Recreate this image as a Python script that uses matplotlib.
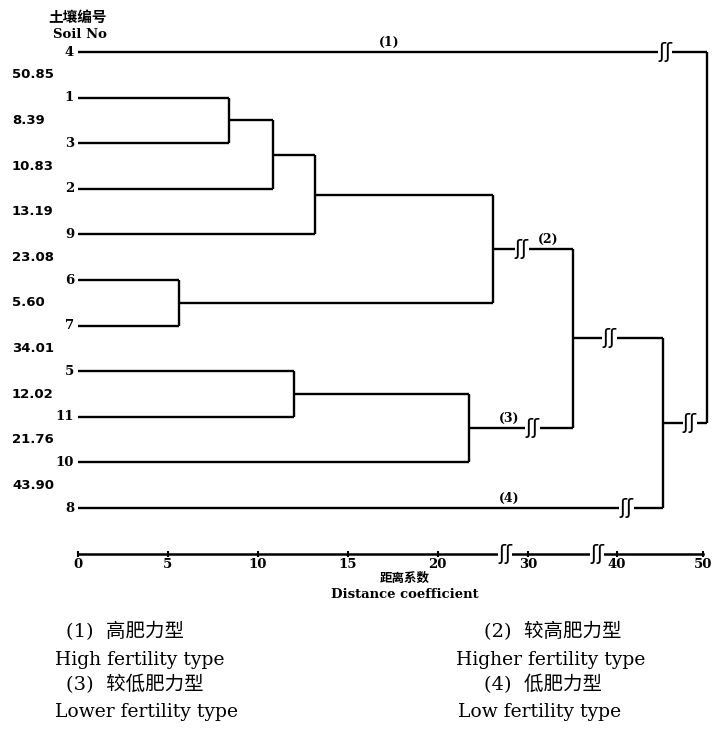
import numpy as np
import matplotlib
matplotlib.use('Agg')
import matplotlib.pyplot as plt
from matplotlib.transforms import blended_transform_factory

plt.rcParams['font.family'] = ['DejaVu Serif', 'Noto Sans CJK SC']

# soils in dendrogram order (top to bottom) and the joining distance between neighbours
leaf_order = [4, 1, 3, 2, 9, 6, 7, 5, 11, 10, 8]
join_dist = [50.85, 8.39, 10.83, 13.19, 23.08, 5.60, 34.01, 12.02, 21.76, 43.90]
tick_values = [0, 5, 10, 15, 20, 30, 40, 50]

legend_cn = ['(1)  高肥力型', '(2)  较高肥力型', '(3)  较低肥力型', '(4)  低肥力型']
legend_en = ['High fertility type', 'Higher fertility type',
             'Lower fertility type', 'Low fertility type']

# broken distance scale of the original drawing (distance -> drawing position)
scale_d = [-10, 0, 23.08, 30, 34.01, 40, 43.90, 50, 50.85, 60]
scale_p = [-102, 78, 493, 528, 573, 617, 663, 703, 707, 790]

def fwd(d):
    return np.interp(d, scale_d, scale_p)

def inv(p):
    return np.interp(p, scale_p, scale_d)

# where the line breaks sit on each link (distance units)
node_breaks = {23.08: 28.8, 21.76: 30.4, 34.01: 39.0, 43.90: 48.0}
leaf_breaks = {8: 40.8, 4: 44.2}
axis_breaks = [25.45, 37.3]

W, H = 714, 752
fig = plt.figure(figsize=(W / 100, H / 100), dpi=100)
ax = fig.add_axes([0, 0, 1, 1])
ax.set_xscale('function', functions=(fwd, inv))
ax.set_xlim(inv(0), inv(W))
row0, row_step = 52, 45.6
ax.set_ylim((H - row0) / row_step, -row0 / row_step)

lw = 1.7
hlinks = {}


def build(lo, hi):
    if lo == hi:
        hlinks[('leaf', leaf_order[lo])] = lo
        return lo, 0.0
    k = lo + int(np.argmax(join_dist[lo:hi]))
    h = join_dist[k]
    yl, hl = build(lo, k)
    yr, hr = build(k + 1, hi)
    ax.plot([h, h], [yl, yr], color='k', lw=lw, solid_capstyle='butt')
    ax.plot([hl, h], [yl, yl], color='k', lw=lw, solid_capstyle='butt')
    ax.plot([hr, h], [yr, yr], color='k', lw=lw, solid_capstyle='butt')
    y = (yl + yr) / 2
    hlinks[('node', h)] = y
    return y, h


build(0, len(leaf_order) - 1)


def brk(d, y):
    ax.text(d, y, 'ʃʃ', ha='center', va='center', fontsize=15,
            family='DejaVu Sans', zorder=5,
            bbox=dict(fc='white', ec='none', pad=0.1))


for h, d in node_breaks.items():
    brk(d, hlinks[('node', h)])
for leaf, d in leaf_breaks.items():
    brk(d, hlinks[('leaf', leaf)])

# group labels
for lab, (d, key) in zip(['(1)', '(2)', '(3)', '(4)'],
                         [(17.3, ('leaf', 4)), (31.8, ('node', 23.08)),
                          (26.3, ('node', 21.76)), (26.3, ('leaf', 8))]):
    ax.annotate(lab, (d, hlinks[key]), xytext=(0, 2), textcoords='offset points',
                ha='center', va='bottom', fontsize=9, fontweight='bold')

# leaf numbers and distances on the left
tr = blended_transform_factory(ax.transAxes, ax.transData)
for i, leaf in enumerate(leaf_order):
    ax.text(74 / W, i, str(leaf), transform=tr, ha='right', va='center',
            fontsize=9.5, fontweight='bold')
for i, v in enumerate(join_dist):
    ax.text(12 / W, i + 0.5, f'{v:.2f}', transform=tr, ha='left', va='center',
            fontsize=9.5, fontweight='bold', family='DejaVu Sans')

# distance axis
for s in ['top', 'left', 'right']:
    ax.spines[s].set_visible(False)
ax.spines['bottom'].set_position(('data', 11))
ax.spines['bottom'].set_bounds(0, 50)
ax.spines['bottom'].set_linewidth(1.8)
ax.set_xticks(tick_values)
ax.set_xticklabels([str(t) for t in tick_values], fontweight='bold', fontsize=9.5)
ax.tick_params(axis='x', direction='inout', length=4, width=1.5, pad=1)
ax.set_yticks([])
for d in axis_breaks:
    brk(d, 11)

fig.text(405 / W, 1 - 578 / H, '距离系数', ha='center', va='center',
         fontsize=9, fontweight='bold', family='Noto Sans CJK SC')
fig.text(405 / W, 1 - 594 / H, 'Distance coefficient', ha='center', va='center',
         fontsize=9.5, fontweight='bold')

fig.text(78 / W, 1 - 17 / H, '土壤编号', ha='center', va='center',
         fontsize=10.5, fontweight='bold', family='Noto Sans CJK SC')
fig.text(80 / W, 1 - 34 / H, 'Soil No', ha='center', va='center',
         fontsize=9.5, fontweight='bold')

# legend of fertility types
cn_x = [66, 484, 66, 484]
en_x = [55, 456, 55, 458]
cn_y = [632, 632, 684, 684]
en_y = [660, 660, 712, 712]
for i in range(4):
    fig.text(cn_x[i] / W, 1 - cn_y[i] / H, legend_cn[i], ha='left', va='center',
             fontsize=14)
    fig.text(en_x[i] / W, 1 - en_y[i] / H, legend_en[i], ha='left', va='center',
             fontsize=13.5)

fig.savefig('out.png', dpi=100)
